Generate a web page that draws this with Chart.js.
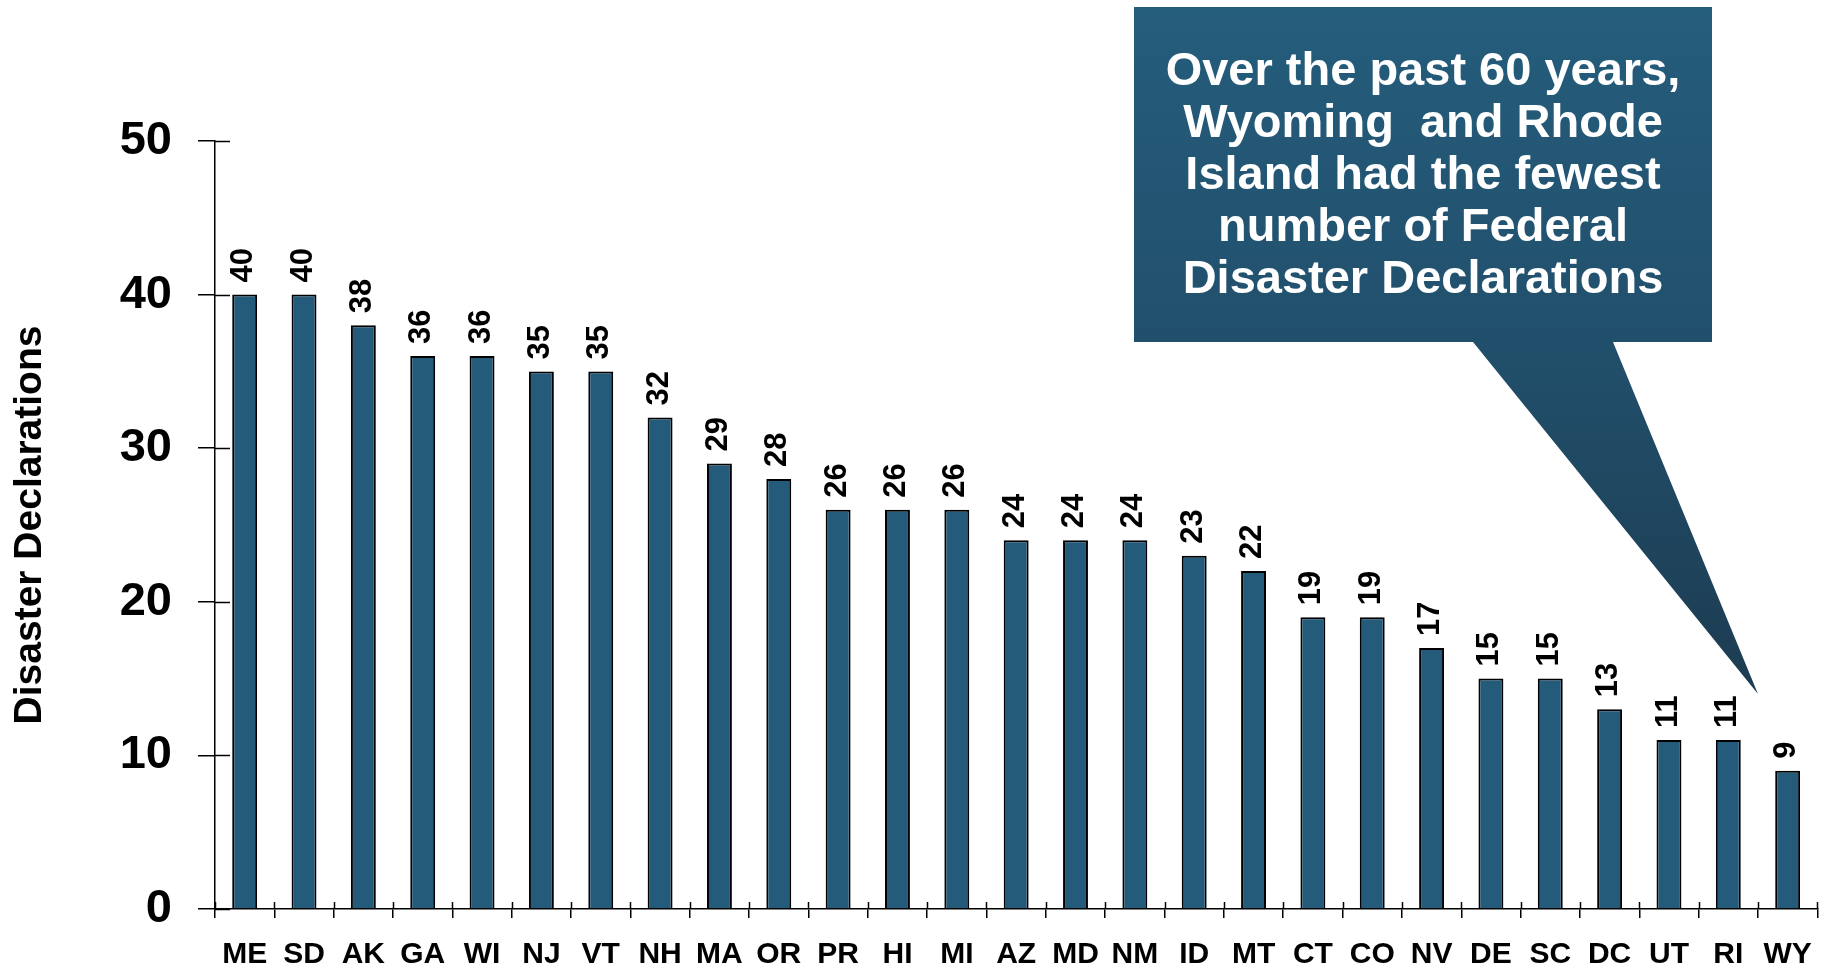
<!DOCTYPE html>
<html>
<head>
<meta charset="utf-8">
<script src="https://cdn.jsdelivr.net/npm/chart.js@4/dist/chart.umd.min.js"></script>
<style>
  html, body { margin: 0; padding: 0; background: #ffffff; }
  #wrap { width: 1831px; height: 966px; position: relative; }
  canvas { display: block; }
</style>
</head>
<body>
<div id="wrap"><canvas id="chart" width="1831" height="966"></canvas></div>
<script>
// States ranked by number of Federal disaster declarations
const states = ['ME','SD','AK','GA','WI','NJ','VT','NH','MA','OR','PR','HI','MI','AZ','MD','NM','ID','MT','CT','CO','NV','DE','SC','DC','UT','RI','WY'];
const declarations = [40,40,38,36,36,35,35,32,29,28,26,26,26,24,24,24,23,22,19,19,17,15,15,13,11,11,9];
const yTicks = [0,10,20,30,40,50];
const yTitle = 'Disaster Declarations';
const calloutLines = [
  'Over the past 60 years,',
  'Wyoming  and Rhode',
  'Island had the fewest',
  'number of Federal',
  'Disaster Declarations'
];

const FONT = '"Liberation Sans", Arial, Helvetica, sans-serif';
const BAR = '#245b7b';

// Tick marks that cross the axis lines (inner half; outer half comes from the grid ticks)
const crossTicks = {
  id: 'crossTicks',
  afterDraw(chart) {
    const {ctx, scales: {x, y}} = chart;
    ctx.save();
    ctx.strokeStyle = '#000';
    ctx.lineWidth = 1.5;
    ctx.beginPath();
    y.ticks.forEach((t, i) => {
      const py = Math.round(y.getPixelForTick(i)) + 0.5;
      ctx.moveTo(x.left, py);
      ctx.lineTo(x.left + 15, py);
    });
    for (let i = 0; i <= states.length; i++) {
      const px = Math.round(x.getPixelForValue(i - 0.5)) + 0.5;
      ctx.moveTo(px, y.bottom);
      ctx.lineTo(px, y.bottom - 7);
    }
    ctx.stroke();
    ctx.restore();
  }
};

// Rotated value labels above each bar
const valueLabels = {
  id: 'valueLabels',
  afterDatasetsDraw(chart) {
    const {ctx} = chart;
    const meta = chart.getDatasetMeta(0);
    ctx.save();
    ctx.fillStyle = '#000';
    ctx.font = 'bold 31px ' + FONT;
    ctx.textAlign = 'left';
    ctx.textBaseline = 'middle';
    meta.data.forEach((bar, i) => {
      ctx.save();
      ctx.translate(bar.x - 1, bar.y - 12);
      ctx.rotate(-Math.PI / 2);
      ctx.fillText(String(declarations[i]), 0, 0);
      ctx.restore();
    });
    ctx.restore();
  }
};

// Speech-bubble callout pointing at the lowest bars
const callout = {
  id: 'callout',
  afterDraw(chart) {
    const {ctx, scales: {x, y}} = chart;
    const box = {l: 1134, t: 7, r: 1712, b: 342};
    const tailL = 1473, tailR = 1613;
    const tipX = x.getPixelForValue(25.5);
    const tipY = y.getPixelForValue(14);
    ctx.save();
    const g = ctx.createLinearGradient(0, box.t, 0, tipY);
    g.addColorStop(0, '#255d7c');
    g.addColorStop(0.5, '#214f6b');
    g.addColorStop(1, '#1d3c51');
    ctx.fillStyle = g;
    ctx.beginPath();
    ctx.moveTo(box.l, box.t);
    ctx.lineTo(box.r, box.t);
    ctx.lineTo(box.r, box.b);
    ctx.lineTo(tailR, box.b);
    ctx.lineTo(tipX, tipY);
    ctx.lineTo(tailL, box.b);
    ctx.lineTo(box.l, box.b);
    ctx.closePath();
    ctx.fill();
    ctx.fillStyle = '#ffffff';
    ctx.font = 'bold 47px ' + FONT;
    ctx.textAlign = 'center';
    ctx.textBaseline = 'alphabetic';
    const cx = (box.l + box.r) / 2;
    calloutLines.forEach((line, i) => {
      ctx.fillText(line, cx, 85 + i * 52);
    });
    ctx.restore();
  }
};

new Chart(document.getElementById('chart'), {
  type: 'bar',
  data: {
    labels: states,
    datasets: [{
      data: declarations,
      backgroundColor: BAR,
      borderColor: '#000',
      borderWidth: 2,
      barPercentage: 0.42,
      categoryPercentage: 1.0
    }]
  },
  options: {
    responsive: false,
    animation: false,
    devicePixelRatio: 1,
    layout: { padding: { left: 0, right: 10, top: 141, bottom: 0 } },
    plugins: {
      legend: { display: false },
      tooltip: { enabled: false },
      title: { display: false }
    },
    scales: {
      x: {
        offset: true,
        grid: {
          offset: true,
          drawOnChartArea: false,
          drawTicks: true,
          tickLength: 9,
          color: '#000',
          lineWidth: 1.5
        },
        border: { display: true, color: '#000', width: 1.5 },
        ticks: {
          color: '#000',
          font: { family: FONT, size: 30, weight: 'bold' },
          padding: 19,
          maxRotation: 0,
          autoSkip: false
        },
        afterFit(s) { s.height = 57; }
      },
      y: {
        min: 0,
        max: 50,
        afterBuildTicks(s) { s.ticks = yTicks.map(v => ({value: v})); },
        grid: {
          drawOnChartArea: false,
          drawTicks: true,
          tickLength: 17,
          color: '#000',
          lineWidth: 1.5
        },
        border: { display: true, color: '#000', width: 1.5 },
        ticks: {
          color: '#000',
          font: { family: FONT, size: 47, weight: 'bold' },
          padding: 26
        },
        title: {
          display: true,
          text: yTitle,
          color: '#000',
          font: { family: FONT, size: 39, weight: 'bold' },
          padding: { top: 7, bottom: 0 }
        },
        afterFit(s) { s.width = 215; }
      }
    }
  },
  plugins: [valueLabels, crossTicks, callout]
});
</script>
</body>
</html>
